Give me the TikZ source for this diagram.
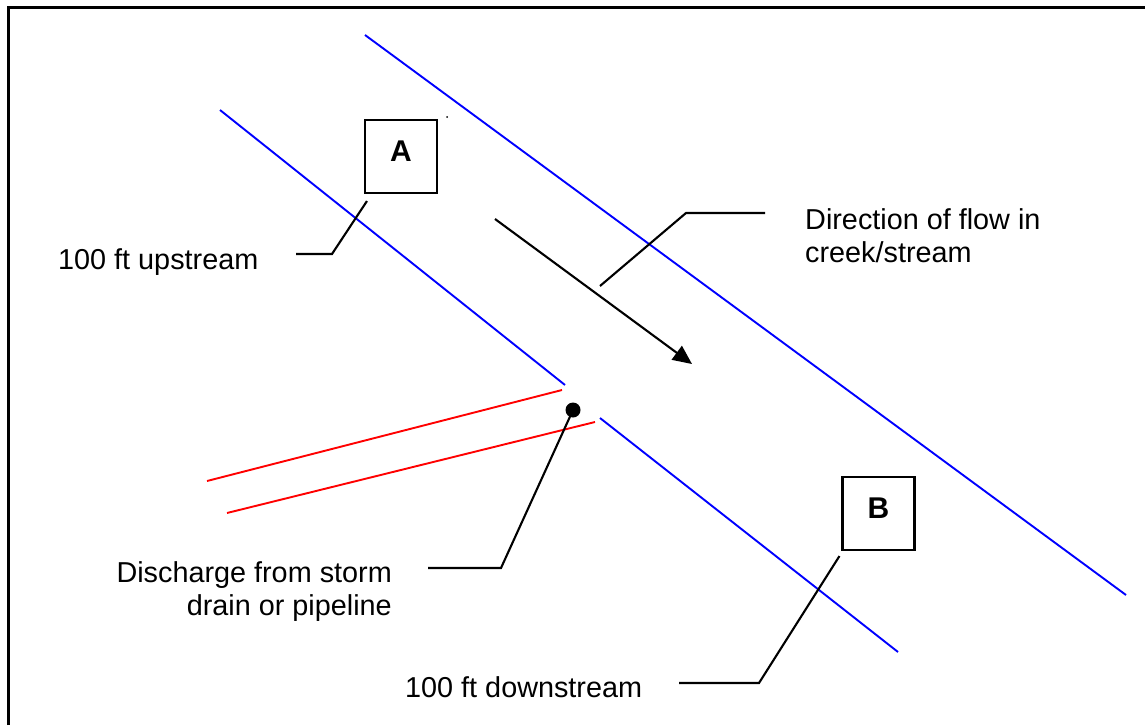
\documentclass[tikz,border=0pt]{standalone}
\usepackage{fontspec}
\setmainfont{Liberation Sans}
\usetikzlibrary{arrows.meta}

\tikzset{
  bank/.style={draw=blue, line width=1.9pt},
  pipe/.style={draw=red, line width=1.9pt},
  leader/.style={draw=black, line width=2.1pt},
  frameline/.style={draw=black, line width=3pt},
  sitebox/.style={draw=black, line width=2.1pt, minimum width=72pt, minimum height=73pt,
    inner sep=0pt, text depth=10pt, font=\fontsize{30}{32}\selectfont\bfseries},
  caption/.style={inner sep=0pt, font=\fontsize{28.8}{33}\selectfont},
  flow/.style={draw=black, line width=2.1pt, -{Triangle[length=19pt,width=17pt]}}
}

\begin{document}
\begin{tikzpicture}[x=1pt, y=-1pt]
  \useasboundingbox (0,0) rectangle (1145,725);
  \fill[white] (0,0) rectangle (1145,725);

  % outer frame (top and left edges)
  \draw[frameline] (8,725) -- (8,8) -- (1145,8);

  % creek banks
  \draw[bank] (365,35) -- (1126,595);
  \draw[bank] (220,110) -- (565,385);
  \draw[bank] (600,418) -- (898,652);

  % storm drain / pipeline
  \draw[pipe] (207,481) -- (562,390);
  \draw[pipe] (227,513) -- (595,422);

  % outfall point
  \node[circle, fill=black, minimum size=15pt, inner sep=0pt] (outfall) at (573,410) {};
  \fill (447,117) circle (1pt);

  % sampling sites
  \node[sitebox] (siteA) at (401,156.5) {A};
  \node[sitebox] (siteB) at (878.5,513.5) {B};

  % flow direction
  \coordinate (flowstart) at (495,219);
  \coordinate (flowend) at (692,364);
  \draw[flow] (flowstart) -- (flowend);

  % captions
  \node[caption, anchor=base west] (upText) at (58,269) {100 ft upstream};
  \node[caption, anchor=base west] (downText) at (405,697) {100 ft downstream};
  \node[caption, anchor=north west, align=left] (flowText) at (805,208)
    {Direction of flow in\\creek/stream};
  \node[caption, anchor=north east, align=right] (drainText) at (392,561)
    {Discharge from storm\\drain or pipeline};

  % leader lines
  \coordinate (upBend) at (332,254);
  \coordinate (upEnd) at (296,254);
  \draw[leader] ([shift={(3,7)}]siteA.south west) -- (upBend) -- (upEnd);

  \coordinate (downBend) at (759,683);
  \coordinate (downEnd) at (679,683);
  \draw[leader] ([shift={(-2,5)}]siteB.south west) -- (downBend) -- (downEnd);

  \coordinate (flowTip) at (600,286);
  \coordinate (flowBend) at (686,213);
  \coordinate (flowEnd) at (765,213);
  \draw[leader] (flowTip) -- (flowBend) -- (flowEnd);

  \coordinate (drainBend) at (501,568);
  \coordinate (drainEnd) at (428,568);
  \draw[leader] (outfall.center) -- (drainBend) -- (drainEnd);
\end{tikzpicture}
\end{document}
